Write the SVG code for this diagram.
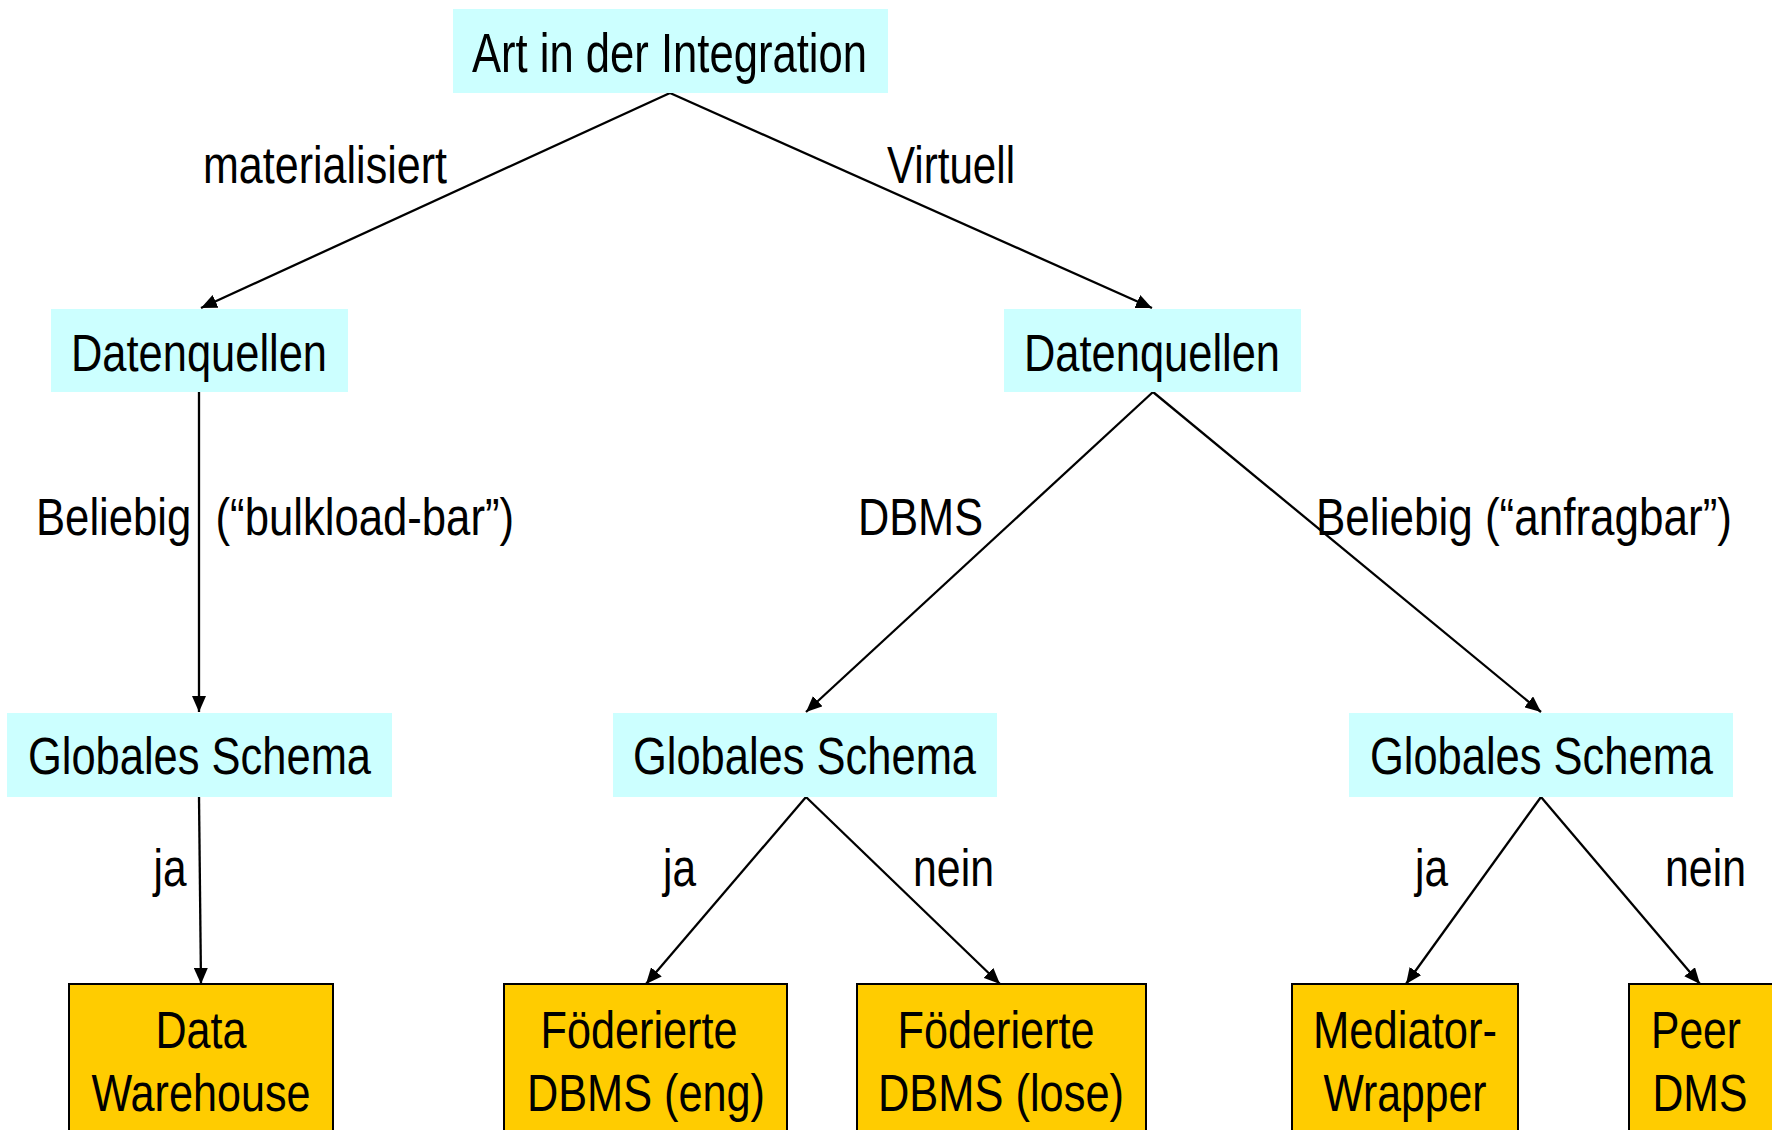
<svg xmlns="http://www.w3.org/2000/svg" width="1772" height="1130" viewBox="0 0 1772 1130">
<style>
.t{font-family:"Liberation Sans",Arial,sans-serif;font-size:51px;fill:#000;}
.c{text-anchor:middle;}
.cyan{fill:#CCFFFF;}
.gold{fill:#FFCC00;stroke:#000;stroke-width:2;}
.edge{stroke:#000;stroke-width:2.3;fill:none;marker-end:url(#ah);}
</style>
<defs>
<marker id="ah" markerUnits="userSpaceOnUse" markerWidth="18" markerHeight="14" refX="16" refY="7" orient="auto">
<path d="M0,0 L16,7 L0,14 z" fill="#000"/>
</marker>
</defs>
<rect width="1772" height="1130" fill="#fff"/>
<g id="connectors">
<line class="edge" x1="670" y1="93" x2="201" y2="308"/>
<line class="edge" x1="670" y1="93" x2="1152" y2="308"/>
<line class="edge" x1="199" y1="392" x2="199" y2="712"/>
<line class="edge" x1="1153" y1="392" x2="806" y2="712"/>
<line class="edge" x1="1153" y1="392" x2="1541" y2="712"/>
<line class="edge" x1="199" y1="797" x2="201" y2="984"/>
<line class="edge" x1="806" y1="797" x2="646" y2="984"/>
<line class="edge" x1="806" y1="797" x2="1000" y2="984"/>
<line class="edge" x1="1541" y1="797" x2="1406" y2="984"/>
<line class="edge" x1="1541" y1="797" x2="1700" y2="984"/>
</g>
<g id="edge-labels">
<text class="t c" x="325" y="183" textLength="244" lengthAdjust="spacingAndGlyphs">materialisiert</text>
<text class="t c" x="951" y="183" textLength="128" lengthAdjust="spacingAndGlyphs">Virtuell</text>
<text class="t" x="36" y="535" textLength="478" lengthAdjust="spacingAndGlyphs" xml:space="preserve">Beliebig  (“bulkload-bar”)</text>
<text class="t" x="858" y="535" textLength="125" lengthAdjust="spacingAndGlyphs">DBMS</text>
<text class="t" x="1316" y="535" textLength="416" lengthAdjust="spacingAndGlyphs">Beliebig (“anfragbar”)</text>
<text class="t c" x="170" y="886" textLength="33" lengthAdjust="spacingAndGlyphs">ja</text>
<text class="t c" x="679.5" y="886" textLength="33" lengthAdjust="spacingAndGlyphs">ja</text>
<text class="t c" x="953.5" y="886" textLength="81" lengthAdjust="spacingAndGlyphs">nein</text>
<text class="t c" x="1431.5" y="886" textLength="33" lengthAdjust="spacingAndGlyphs">ja</text>
<text class="t c" x="1705.5" y="886" textLength="81" lengthAdjust="spacingAndGlyphs">nein</text>
</g>
<g id="node-art">
<rect class="cyan" x="453" y="9" width="435" height="84"/>
<text class="t c" x="669.5" y="72" style="font-size:55px" textLength="395" lengthAdjust="spacingAndGlyphs">Art in der Integration</text>
</g>
<g id="node-datenquellen-mat">
<rect class="cyan" x="51" y="309" width="297" height="83"/>
<text class="t c" x="199" y="371" textLength="256" lengthAdjust="spacingAndGlyphs">Datenquellen</text>
</g>
<g id="node-datenquellen-virt">
<rect class="cyan" x="1004" y="309" width="297" height="83"/>
<text class="t c" x="1152" y="371" textLength="256" lengthAdjust="spacingAndGlyphs">Datenquellen</text>
</g>
<g id="node-schema-1">
<rect class="cyan" x="7" y="713" width="385" height="84"/>
<text class="t c" x="199.5" y="774" textLength="343" lengthAdjust="spacingAndGlyphs">Globales Schema</text>
</g>
<g id="node-schema-2">
<rect class="cyan" x="613" y="713" width="384" height="84"/>
<text class="t c" x="804.5" y="774" textLength="343" lengthAdjust="spacingAndGlyphs">Globales Schema</text>
</g>
<g id="node-schema-3">
<rect class="cyan" x="1349" y="713" width="384" height="84"/>
<text class="t c" x="1541.5" y="774" textLength="343" lengthAdjust="spacingAndGlyphs">Globales Schema</text>
</g>
<g id="node-dwh">
<rect class="gold" x="69" y="984" width="264" height="170"/>
<text class="t c" x="201" y="1048" textLength="91" lengthAdjust="spacingAndGlyphs">Data</text>
<text class="t c" x="201" y="1111" textLength="219" lengthAdjust="spacingAndGlyphs">Warehouse</text>
</g>
<g id="node-fdbms-eng">
<rect class="gold" x="504" y="984" width="283" height="170"/>
<text class="t c" x="639" y="1048" textLength="197" lengthAdjust="spacingAndGlyphs">Föderierte</text>
<text class="t c" x="646" y="1111" textLength="238" lengthAdjust="spacingAndGlyphs">DBMS (eng)</text>
</g>
<g id="node-fdbms-lose">
<rect class="gold" x="857" y="984" width="289" height="170"/>
<text class="t c" x="996" y="1048" textLength="197" lengthAdjust="spacingAndGlyphs">Föderierte</text>
<text class="t c" x="1001" y="1111" textLength="246" lengthAdjust="spacingAndGlyphs">DBMS (lose)</text>
</g>
<g id="node-mediator">
<rect class="gold" x="1292" y="984" width="226" height="170"/>
<text class="t c" x="1405" y="1048" textLength="184" lengthAdjust="spacingAndGlyphs">Mediator-</text>
<text class="t c" x="1405" y="1111" textLength="163" lengthAdjust="spacingAndGlyphs">Wrapper</text>
</g>
<g id="node-peer">
<rect class="gold" x="1629" y="984" width="170" height="170"/>
<text class="t c" x="1696" y="1048" textLength="90" lengthAdjust="spacingAndGlyphs">Peer</text>
<text class="t c" x="1700" y="1111" textLength="95" lengthAdjust="spacingAndGlyphs">DMS</text>
</g>
</svg>
